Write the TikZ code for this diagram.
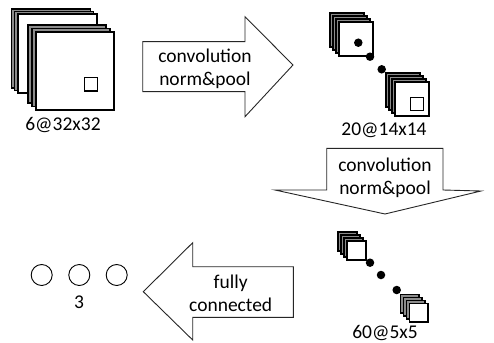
\documentclass[tikz,border=0pt]{standalone}
\usepackage{fontspec}
\setmainfont{Carlito}
\begin{document}
\begin{tikzpicture}[x=1pt,y=-1pt,
  sheet/.style={draw=black,fill=white,line width=1.2pt},
  backsheet/.style={draw=black,fill=black!45,line width=1.2pt},
  arrowshape/.style={draw=black!85,fill=white,line width=0.9pt,line join=miter},
  lbl/.style={font=\fontsize{19.5}{23}\selectfont,inner sep=0pt,align=center},
  dot/.style={circle,fill=black,inner sep=0pt,minimum size=8.5pt},
  outnode/.style={circle,draw=black,line width=0.9pt,fill=white,inner sep=0pt,minimum size=21pt}]
\useasboundingbox (0,0) rectangle (494,342);
% ---- left big stack (6@32x32)
\foreach \x/\y in {11.5/9,14.75/11.5}
  \draw[backsheet] (\x,\y) rectangle ++(79,79);
\draw[sheet] (18,14) rectangle ++(79,79);
\foreach \x/\y in {28/25,32/28.5}
  \draw[backsheet] (\x,\y) rectangle ++(78,78);
\draw[sheet] (36,32) rectangle ++(78,78);
\draw[line width=1pt] (84,78) rectangle (97,91);
\node[lbl] (l1) at (63,125) {6@32x32};
% ---- arrow 1
\draw[arrowshape] (142.7,41.7) -- (245,41.7) -- (245,16.7) -- (293,65) -- (245,116.7) -- (245,91.7) -- (142.7,91.7) -- cycle;
\node[lbl] (a1) at (205,68.5) {convolution\\norm\&pool};
% ---- top right stacks (20@14x14)
\foreach \x/\y in {330/13,333/16,336/19}
  \draw[backsheet] (\x,\y) rectangle ++(34,34);
\draw[sheet] (339,22) rectangle ++(34,34);
\node[dot] (d1) at (358.3,42.7) {};
\node[dot] (d2) at (370,56.7) {};
\node[dot] (d3) at (381.7,69.3) {};
\foreach \x/\y in {386/73,389/76,392/79}
  \draw[backsheet] (\x,\y) rectangle ++(34,34);
\draw[sheet] (395,82) rectangle ++(34,34);
\draw[line width=1pt] (410,97.5) rectangle (423,110.5);
\node[lbl] (l2) at (384,130) {20@14x14};
% ---- arrow 2
\draw[arrowshape] (326.7,148.3) -- (443,148.3) -- (443,190) -- (481,191) -- (385,214) -- (275,190) -- (326.7,190) -- cycle;
\node[lbl] (a2) at (385,177.5) {convolution\\norm\&pool};
% ---- bottom stacks (60@5x5)
\foreach \x/\y in {338/232,341/235,344/238}
  \draw[backsheet] (\x,\y) rectangle ++(19,19);
\draw[sheet] (347,241) rectangle ++(19,19);
\node[dot] (d4) at (370,262.7) {};
\node[dot] (d5) at (381,275) {};
\node[dot] (d6) at (396.7,290) {};
\foreach \x/\y in {400.5/294.5,403.5/297.5,406.5/300.5}
  \draw[backsheet] (\x,\y) rectangle ++(18.5,18.5);
\draw[sheet] (409.5,303.5) rectangle ++(18.5,18.5);
\node[lbl] (l3) at (385,333) {60@5x5};
% ---- arrow 3
\draw[arrowshape] (293.3,266.7) -- (192.7,266.7) -- (192.7,242.7) -- (143.3,291.7) -- (192.7,340) -- (192.7,317.3) -- (293.3,317.3) -- cycle;
\node[lbl] (a3) at (230.7,293.3) {fully\\connected};
% ---- output neurons
\node[outnode] (o1) at (41.7,275) {};
\node[outnode] (o2) at (79.3,275) {};
\node[outnode] (o3) at (116.7,275) {};
\node[lbl] (l4) at (79,302.7) {3};
\end{tikzpicture}
\end{document}
